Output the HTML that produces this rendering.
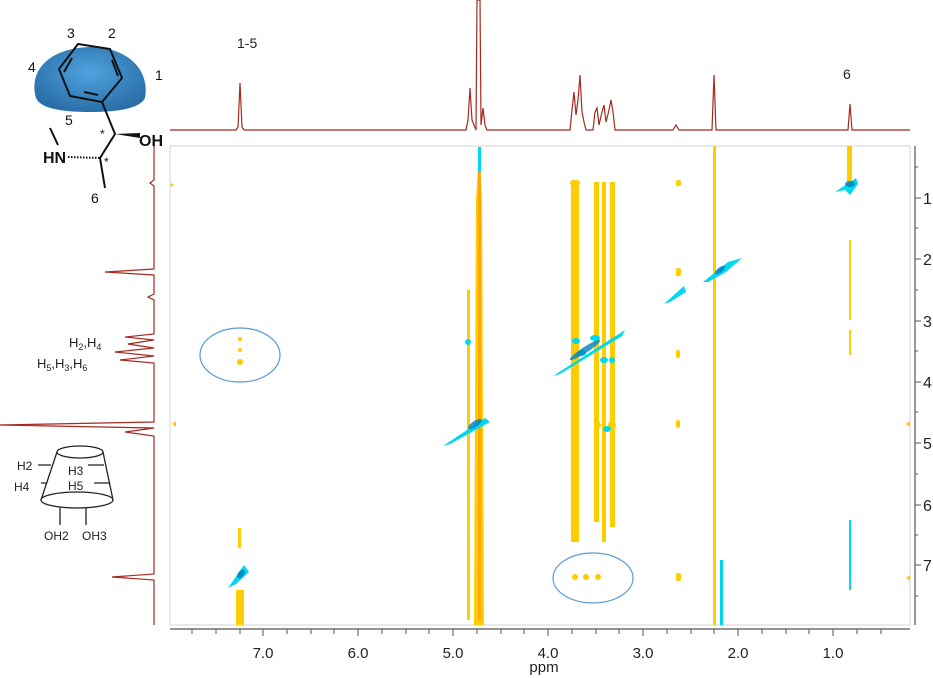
<!DOCTYPE html>
<html><head><meta charset="utf-8"><style>
body{margin:0;background:#fff;width:933px;height:678px;overflow:hidden}
svg{display:block;font-family:"Liberation Sans","DejaVu Sans",sans-serif}
</style></head><body>
<svg width="933" height="678" viewBox="0 0 933 678" xmlns="http://www.w3.org/2000/svg">
<defs>
<radialGradient id="cap" cx="50%" cy="40%" r="60%"><stop offset="0" stop-color="#4fa3df"/><stop offset="1" stop-color="#2a6fa8"/></radialGradient>
</defs>
<rect x="170" y="146" width="740" height="479" fill="none" stroke="#e2e2e2" stroke-width="1.5"/>
<path d="M170,130 L236,130 L238,127 L240,83 L242,127 L244,130 L466,130 L468,120 L470,88 L472,120 L476,130 L477,0 L480,0 L481,125 L483,108 L485,125 L487,130 L570,130 L572,110 L574,92 L576,115 L578,100 L580,75 L582,112 L584,122 L586,130 L593,130 L595,112 L597,108 L599,125 L602,112 L604,105 L606,122 L609,110 L611,100 L613,112 L615,130 L673,130 L676,125 L679,130 L712,130 L714,75 L716,130 L848,130 L850,104 L852,130 L910,130" fill="none" stroke="#a52a1f" stroke-width="1.2"/>
<path d="M154,146 L154,180 L150,183 L154,186 L154,269 L105,272 L154,275 L154,294 L148,297 L154,300 L154,334 L125,337 L154,340 L128,344 L154,348 L115,352 L154,356 L120,360 L154,363 L154,422 L0,425 L154,428 L125,432 L154,436 L154,574 L112,577 L154,580 L154,625" fill="none" stroke="#a52a1f" stroke-width="1.2"/>
<g fill="#ffcc00">
<rect x="467" y="290" width="3" height="330"/>
<path d="M476,200 L479,150 L482,200 L484,625 L474,625 Z"/>
<rect x="571" y="182" width="8" height="360"/>
<rect x="594" y="182" width="5" height="340"/>
<rect x="602" y="182" width="4" height="360"/>
<rect x="610" y="182" width="5" height="345"/>
<rect x="713" y="146" width="3" height="479"/>
<rect x="847" y="146" width="5" height="45"/>
<rect x="849" y="240" width="2" height="80"/>
<rect x="849" y="330" width="2" height="25"/>
<rect x="236" y="590" width="8" height="35"/>
<rect x="238" y="528" width="3" height="20"/>
<rect x="676" y="180" width="5" height="6" rx="2"/>
<rect x="676" y="268" width="5" height="8" rx="2"/>
<rect x="676" y="350" width="4" height="8" rx="2"/>
<rect x="676" y="420" width="4" height="8" rx="2"/>
<rect x="676" y="573" width="5" height="8" rx="2"/>
<circle cx="240" cy="339" r="2"/><circle cx="240" cy="350" r="2"/><circle cx="240" cy="362" r="3"/>
<circle cx="575" cy="577" r="3"/><circle cx="586" cy="577" r="3"/><circle cx="598" cy="577" r="3"/>
<circle cx="575" cy="425" r="4"/><circle cx="598" cy="425" r="3"/><circle cx="612" cy="425" r="4"/>
<path d="M172,424 L176,421 L176,427Z"/><path d="M906,424 L910,421 L910,427Z"/>
<path d="M906,578 L910,575 L910,581Z"/><circle cx="172" cy="185" r="1.5"/>
<rect x="570" y="180" width="10" height="6" rx="3"/>
</g>
<rect x="478" y="150" width="3" height="470" fill="#ff9900" opacity="0.7"/>
<g fill="#00d8f0">
<path d="M443,446 L485,418 L490,422 L450,444Z"/>
<path d="M553,376 L625,330 L622,336 L560,374Z"/>
<path d="M664,304 L684,286 L686,292 L670,302Z"/>
<path d="M703,282 L728,262 L742,258 L726,272 L708,282Z"/>
<path d="M835,192 L856,178 L858,184 L850,195 L845,190Z"/>
<path d="M228,588 L244,565 L249,572 L236,584Z"/>
<rect x="478" y="147" width="3" height="25"/>
<rect x="720" y="560" width="3" height="65"/>
<rect x="849" y="520" width="2" height="70"/>
<ellipse cx="468" cy="342" rx="3" ry="3"/><ellipse cx="576" cy="341" rx="4" ry="3"/>
<ellipse cx="595" cy="338" rx="5" ry="3"/><ellipse cx="582" cy="353" rx="4" ry="3"/>
<ellipse cx="604" cy="360" rx="4" ry="3"/><ellipse cx="612" cy="360" rx="3" ry="3"/>
<ellipse cx="607" cy="429" rx="4" ry="3"/>
</g>
<g fill="#0080c0" opacity="0.8">
<ellipse cx="475" cy="424" rx="8" ry="3" transform="rotate(-33 475 424)"/>
<ellipse cx="585" cy="350" rx="18" ry="3" transform="rotate(-33 585 350)"/>
<ellipse cx="720" cy="270" rx="6" ry="2.5" transform="rotate(-38 720 270)"/>
<ellipse cx="850" cy="184" rx="5" ry="3"/>
<ellipse cx="241" cy="574" rx="5" ry="3" transform="rotate(-50 241 574)"/>
</g>
<ellipse cx="240" cy="355" rx="40" ry="27" fill="none" stroke="#5b9bd5" stroke-width="1.2"/>
<ellipse cx="593" cy="578" rx="40" ry="25" fill="none" stroke="#5b9bd5" stroke-width="1.2"/>
<line x1="170" y1="629" x2="910" y2="629" stroke="#555" stroke-width="1.2"/>
<g stroke="#555" stroke-width="1">
<path d="M192,629v5M216,629v5M240,629v5M287,629v5M311,629v5M334,629v5M382,629v5M406,629v5M429,629v5M477,629v5M501,629v5M524,629v5M572,629v5M596,629v5M619,629v5M667,629v5M691,629v5M714,629v5M762,629v5M786,629v5M809,629v5M857,629v5M881,629v5"/>
<path d="M263,629v7M358,629v7M453,629v7M548,629v7M643,629v7M738,629v7M833,629v7"/>
</g>
<g font-size="15" fill="#222" text-anchor="middle">
<text x="263" y="658">7.0</text><text x="358" y="658">6.0</text><text x="453" y="658">5.0</text><text x="548" y="658">4.0</text><text x="643" y="658">3.0</text><text x="738" y="658">2.0</text><text x="833" y="658">1.0</text>
<text x="544" y="672">ppm</text>
</g>
<line x1="915" y1="146" x2="915" y2="625" stroke="#555" stroke-width="1.2"/>
<g stroke="#555"><path d="M915,198h6M915,259h6M915,321h6M915,382h6M915,443h6M915,505h6M915,565h6M915,228h3M915,290h3M915,351h3M915,412h3M915,474h3M915,535h3M915,596h3M915,167h3"/></g>
<g font-size="16" fill="#222"><text x="923" y="204">1</text><text x="923" y="265">2</text><text x="923" y="327">3</text><text x="923" y="388">4</text><text x="923" y="449">5</text><text x="923" y="511">6</text><text x="923" y="571">7</text></g>
<g font-size="14" fill="#222"><text x="237" y="48">1-5</text><text x="843" y="79">6</text></g>
<path d="M36,98 C28,70 50,48 90,47 C128,47 150,70 145,98 C140,108 120,112 90,112 C60,112 40,108 36,98Z" fill="url(#cap)"/>
<g fill="none" stroke="#111" stroke-width="2">
<path d="M78,44 L110,49 L122,78 L102,102 L70,96 L59,69 Z"/>
<path d="M72,58 L64,72 M112,60 L118,76 M84,92 L98,95"/>
<path d="M102,102 L115,134 L100,158 L105,188"/>
<path d="M50,128 L58,145"/>
</g>
<path d="M115,134 L140,138 L140,133Z" fill="#111"/>
<path d="M68,157 L100,158" stroke="#111" stroke-width="2" stroke-dasharray="1.5,1.5"/>
<g font-size="14" fill="#111"><text x="67" y="38">3</text><text x="108" y="38">2</text><text x="28" y="72">4</text><text x="155" y="80">1</text><text x="65" y="125">5</text><text x="91" y="203">6</text>
<text x="100" y="138" font-size="12">*</text><text x="104" y="166" font-size="12">*</text>
<text x="139" y="146" font-weight="bold" font-size="16">OH</text><text x="43" y="163" font-weight="bold" font-size="16">HN</text></g>
<g font-size="13" fill="#222"><text x="69" y="347">H<tspan font-size="9" dy="3">2</tspan><tspan dy="-3">,H</tspan><tspan font-size="9" dy="3">4</tspan></text>
<text x="37" y="368">H<tspan font-size="9" dy="3">5</tspan><tspan dy="-3">,H</tspan><tspan font-size="9" dy="3">3</tspan><tspan dy="-3">,H</tspan><tspan font-size="9" dy="3">6</tspan></text></g>
<g fill="none" stroke="#222" stroke-width="1.3">
<ellipse cx="80" cy="452" rx="23" ry="6"/>
<path d="M57,452 L41,500 M103,452 L113,500"/>
<path d="M41,500 A36,8 0 0 0 113,500 A36,8 0 0 0 41,500"/>
<path d="M60,508 V525 M86,508 V525"/>
<path d="M38,465 H51 M41,483 H47 M88,465 H104 M94,483 H109"/>
</g>
<g font-size="12" fill="#222"><text x="17" y="470">H2</text><text x="14" y="491">H4</text><text x="68" y="475">H3</text><text x="68" y="490">H5</text><text x="44" y="540">OH2</text><text x="82" y="540">OH3</text></g>
</svg>
</body></html>
